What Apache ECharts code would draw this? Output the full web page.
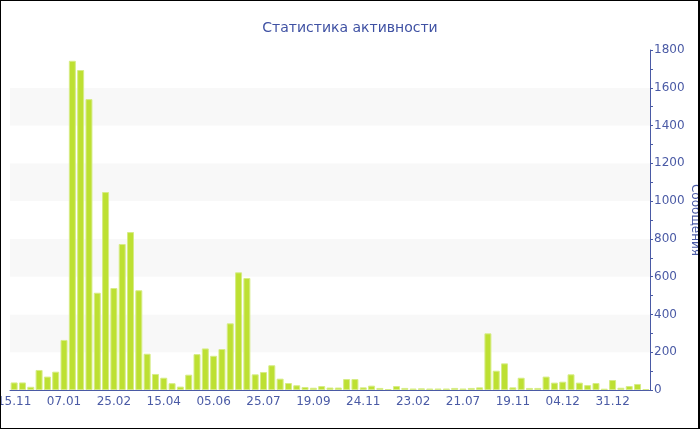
<!DOCTYPE html>
<html>
<head>
<meta charset="utf-8">
<script src="https://cdn.jsdelivr.net/npm/echarts@6/dist/echarts.min.js"></script>
<style>
html,body{margin:0;padding:0;background:#fff;}
#frame{position:absolute;left:0;top:0;width:700px;height:429px;box-sizing:border-box;border:1px solid #000;border-right-width:2px;}
#chart{position:absolute;left:0;top:0;width:700px;height:430px;}
</style>
</head>
<body>
<div id="chart"></div>
<div id="frame"></div>
<script>
var categories = [
 '15.11','25.11','03.12','12.12','20.12','29.12',
 '07.01','15.01','23.01','31.01','08.02','16.02',
 '25.02','05.03','13.03','21.03','29.03','06.04',
 '15.04','23.04','02.05','10.05','19.05','27.05',
 '05.06','13.06','22.06','30.06','08.07','16.07',
 '25.07','03.08','12.08','22.08','31.08','09.09',
 '19.09','30.09','11.10','22.10','02.11','13.11',
 '24.11','09.12','24.12','08.01','22.01','07.02',
 '23.02','19.03','13.04','07.05','01.06','26.06',
 '21.07','10.08','30.08','18.09','09.10','29.10',
 '19.11','21.11','23.11','26.11','29.11','01.12',
 '04.12','08.12','13.12','17.12','22.12','26.12',
 '31.12','04.01','09.01','13.01','17.01'
];
var messages = [
 40,40,17,106,71,97,
 265,1743,1694,1540,515,1048,
 540,773,836,528,192,85,
 65,36,18,81,190,220,
 181,217,353,623,593,83,
 95,131,60,37,25,16,
 12,21,13,13,58,58,
 14,23,11,5,21,11,
 8,9,8,8,8,11,
 8,11,14,300,102,141,
 14,65,11,11,71,39,
 44,83,39,26,37,7,
 53,12,21,32,5
];
var yTicks = {min: 0, max: 1800, interval: 200};

var axisColor = '#4a5aa5';
var font = 'DejaVu Sans';
var chart = echarts.init(document.getElementById('chart'), null, {renderer: 'canvas'});
chart.setOption({
  animation: false,
  backgroundColor: '#fff',
  title: {
    text: 'Статистика активности',
    left: 'center',
    top: 16,
    textStyle: {fontFamily: font, fontSize: 14, fontWeight: 'normal', color: '#3f51a3'}
  },
  grid: {left: 10, right: 50, top: 50, bottom: 40, containLabel: false, outerBoundsMode: 'none'},
  xAxis: {
    type: 'category',
    data: categories,
    axisLine: {lineStyle: {color: axisColor, width: 1}},
    axisTick: {alignWithLabel: true, interval: 5, length: 4, lineStyle: {color: axisColor}},
    axisLabel: {interval: 5, color: axisColor, fontFamily: font, fontSize: 12, margin: 6, hideOverlap: false},
    splitLine: {show: false}
  },
  yAxis: {
    type: 'value',
    position: 'right',
    min: yTicks.min, max: yTicks.max, interval: yTicks.interval,
    name: 'Сообщения',
    nameLocation: 'middle',
    nameGap: 39,
    nameRotate: -90,
    nameMoveOverlap: false,
    nameTextStyle: {color: axisColor, fontFamily: font, fontSize: 12},
    axisLine: {show: true, lineStyle: {color: axisColor, width: 1}},
    axisTick: {show: true, length: 3, lineStyle: {color: axisColor}},
    minorTick: {show: true, splitNumber: 2, length: 3, lineStyle: {color: axisColor}},
    axisLabel: {color: axisColor, fontFamily: font, fontSize: 12, margin: 4, formatter: function (v) { return String(v); }},
    splitLine: {show: false},
    splitArea: {show: true, areaStyle: {color: ['#ffffff', '#f8f8f8']}}
  },
  series: [{
    type: 'bar',
    data: messages,
    barCategoryGap: '16%',
    itemStyle: {color: '#bde032', borderColor: '#d6ec86', borderWidth: 1}
  }]
});
</script>
</body>
</html>
